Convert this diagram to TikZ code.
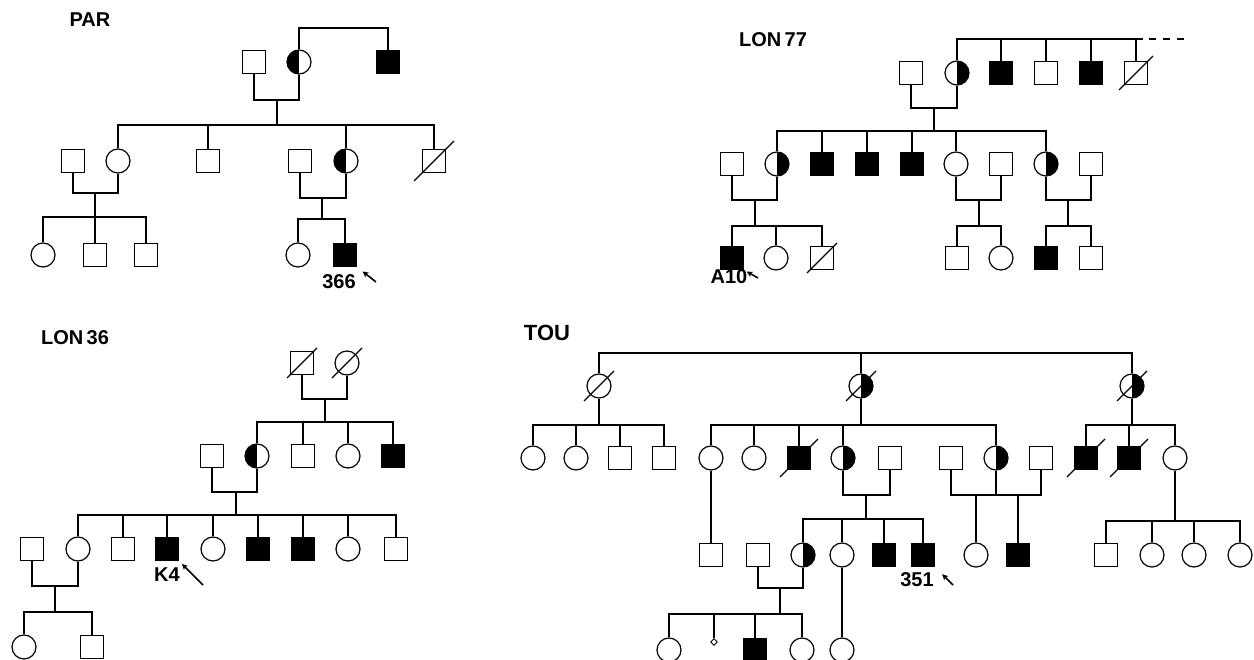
\documentclass[tikz,border=0pt]{standalone}
\usepackage{fontspec}
\setmainfont{Liberation Sans}
\usetikzlibrary{arrows.meta, shapes.geometric}
\newcommand{\deceased}[3]{\draw (#1.center) ++(-#2pt,-#3pt) -- ++(2*#2pt,2*#3pt);}
\tikzset{
  sq/.style={draw, rectangle, inner sep=0pt, minimum size=23pt},
  ci/.style={draw, circle, inner sep=0pt, minimum size=24pt},
  dia/.style={draw, diamond, inner sep=0pt, minimum size=7pt, line width=0.9pt},
  aff/.style={fill=black},
  lhalf/.style={path picture={\fill (path picture bounding box.south west) rectangle (path picture bounding box.north);}},
  rhalf/.style={path picture={\fill (path picture bounding box.south) rectangle (path picture bounding box.north east);}},
  lbl/.style={font=\fontsize{20}{22}\selectfont\bfseries, inner sep=0pt},
  proband/.style={-{Stealth[length=6pt, width=6pt]}, line width=1.6pt},
}
\begin{document}
\begin{tikzpicture}[x=1pt, y=-1pt, line width=1.2pt]
\useasboundingbox (0,0) rectangle (1254,660);

% PAR
\node[lbl] (parT) at (90,20) {PAR};
\node[sq] (pa1) at (254,62) {};
\node[ci, lhalf] (pa2) at (299,62) {};
\node[sq, aff] (pa3) at (388,62) {};
\coordinate (parG) at (340,28);
\draw (pa2.north) |- (parG) -| (pa3.north);
\node[sq] (pb1) at (73,161) {};
\node[ci] (pb2) at (118,161) {};
\node[sq] (pb3) at (208,161) {};
\node[sq] (pb4) at (300,161) {};
\node[ci, lhalf] (pb5) at (346,161) {};
\node[sq] (pb6) at (434,161) {};
\deceased{pb6}{20}{20}
\coordinate (parM1) at (277,100);
\coordinate (parS1) at (277,125);
\draw (pa1.south) |- (parM1) -| (pa2.south);
\draw (parM1) -- (parS1);
\draw (pb2.north) |- (parS1) -| (pb6.north);
\foreach \c in {pb3,pb5} \draw (\c.north) -- (\c.north |- parS1);
\node[ci] (pc1) at (43,255) {};
\node[sq] (pc2) at (95,255) {};
\node[sq] (pc3) at (146,255) {};
\node[ci] (pc4) at (298,255) {};
\node[sq, aff] (pc5) at (345,255) {};
\coordinate (parM2) at (95,193);
\coordinate (parS2) at (95,217);
\draw (pb1.south) |- (parM2) -| (pb2.south);
\draw (parM2) -- (parS2);
\draw (pc1.north) |- (parS2) -| (pc3.north);
\draw (pc2.north) -- (pc2.north |- parS2);
\coordinate (parM3) at (322,198);
\coordinate (parS3) at (322,219);
\draw (pb4.south) |- (parM3) -| (pb5.south);
\draw (parM3) -- (parS3);
\draw (pc4.north) |- (parS3) -| (pc5.north);
\node[lbl] (par366) at (339,282) {366};
\coordinate (parA) at (376,282);
\draw[proband, shorten >=7pt] (parA) -- (pc5.south east);

% LON77
\node[lbl] (lonT) at (773,40) {LON\,77};
\node[sq] (la1) at (911,73) {};
\node[ci, rhalf] (la2) at (957,73) {};
\node[sq, aff] (la3) at (1001,73) {};
\node[sq] (la4) at (1046,73) {};
\node[sq, aff] (la5) at (1091,73) {};
\node[sq] (la6) at (1136,73) {};
\deceased{la6}{17}{17}
\coordinate (lonG) at (1046,39);
\coordinate (lonE) at (1186,39);
\draw (la2.north) |- (lonG) -| (la6.north);
\foreach \c in {la3,la4,la5} \draw (\c.north) -- (\c.north |- lonG);
\draw (la6.north |- lonG) -- ++(7pt,0);
\draw[dash pattern=on 7pt off 7pt] (la6.north |- lonG) ++(13pt,0) -- (lonE);
\node[sq] (lb1) at (732,164) {};
\node[ci, rhalf] (lb2) at (777,164) {};
\node[sq, aff] (lb3) at (822,164) {};
\node[sq, aff] (lb4) at (867,164) {};
\node[sq, aff] (lb5) at (912,164) {};
\node[ci] (lb6) at (956,164) {};
\node[sq] (lb7) at (1001,164) {};
\node[ci, rhalf] (lb8) at (1046,164) {};
\node[sq] (lb9) at (1091,164) {};
\coordinate (lonM1) at (934,108);
\coordinate (lonS1) at (934,131);
\draw (la1.south) |- (lonM1) -| (la2.south);
\draw (lonM1) -- (lonS1);
\draw (lb2.north) |- (lonS1) -| (lb8.north);
\foreach \c in {lb3,lb4,lb5,lb6} \draw (\c.north) -- (\c.north |- lonS1);
\node[sq, aff] (lc1) at (732,258) {};
\node[ci] (lc2) at (776,258) {};
\node[sq] (lc3) at (822,258) {};
\deceased{lc3}{15}{15}
\node[sq] (lc4) at (957,258) {};
\node[ci] (lc5) at (1001,258) {};
\node[sq, aff] (lc6) at (1046,258) {};
\node[sq] (lc7) at (1091,258) {};
\coordinate (lonM2) at (755,200);
\coordinate (lonS2) at (755,226);
\draw (lb1.south) |- (lonM2) -| (lb2.south);
\draw (lonM2) -- (lonS2);
\draw (lc1.north) |- (lonS2) -| (lc3.north);
\draw (lc2.north) -- (lc2.north |- lonS2);
\coordinate (lonM3) at (979,200);
\coordinate (lonS3) at (979,226);
\draw (lb6.south) |- (lonM3) -| (lb7.south);
\draw (lonM3) -- (lonS3);
\draw (lc4.north) |- (lonS3) -| (lc5.north);
\coordinate (lonM4) at (1068,200);
\coordinate (lonS4) at (1068,226);
\draw (lb8.south) |- (lonM4) -| (lb9.south);
\draw (lonM4) -- (lonS4);
\draw (lc6.north) |- (lonS4) -| (lc7.north);
\node[lbl] (lonA10) at (729,277) {A10};
\coordinate (lonA) at (758,278);
\draw[proband, shorten >=3pt] (lonA) -- (lc1.south east);

% LON36
\node[lbl] (kT) at (75,338) {LON\,36};
\node[sq] (ka1) at (302,363) {};
\node[ci] (ka2) at (347,363) {};
\deceased{ka1}{15}{15}
\deceased{ka2}{15}{15}
\coordinate (kM1) at (325,399);
\coordinate (kS1) at (325,422);
\draw (ka1.south) |- (kM1) -| (ka2.south);
\draw (kM1) -- (kS1);
\node[sq] (kb1) at (212,456) {};
\node[ci, lhalf] (kb2) at (257,456) {};
\node[sq] (kb3) at (303,456) {};
\node[ci] (kb4) at (348,456) {};
\node[sq, aff] (kb5) at (393,456) {};
\draw (kb2.north) |- (kS1) -| (kb5.north);
\foreach \c in {kb3,kb4} \draw (\c.north) -- (\c.north |- kS1);
\coordinate (kM2) at (236,492);
\coordinate (kS2) at (236,515);
\draw (kb1.south) |- (kM2) -| (kb2.south);
\draw (kM2) -- (kS2);
\node[sq] (kc1) at (32,549) {};
\node[ci] (kc2) at (78,549) {};
\node[sq] (kc3) at (123,549) {};
\node[sq, aff] (kc4) at (167,549) {};
\node[ci] (kc5) at (213,549) {};
\node[sq, aff] (kc6) at (258,549) {};
\node[sq, aff] (kc7) at (303,549) {};
\node[ci] (kc8) at (348,549) {};
\node[sq] (kc9) at (396,549) {};
\draw (kc2.north) |- (kS2) -| (kc9.north);
\foreach \c in {kc3,kc4,kc5,kc6,kc7,kc8} \draw (\c.north) -- (\c.north |- kS2);
\coordinate (kM3) at (55,586);
\coordinate (kS3) at (55,612);
\draw (kc1.south) |- (kM3) -| (kc2.south);
\draw (kM3) -- (kS3);
\node[ci] (kd1) at (24,647) {};
\node[sq] (kd2) at (92,647) {};
\draw (kd1.north) |- (kS3) -| (kd2.north);
\node[lbl] (kK4) at (167,575) {K4};
\coordinate (kA) at (203,585);
\draw[proband, shorten >=4pt] (kA) -- (kc4.south east);

% TOU
\node[lbl, font=\fontsize{22}{24}\selectfont\bfseries] (tT) at (547,333) {TOU};
\node[ci] (ta1) at (599,386) {};
\node[ci, rhalf] (ta2) at (861,386) {};
\node[ci, rhalf] (ta3) at (1132,386) {};
\foreach \c in {ta1,ta2,ta3} {\deceased{\c}{15}{15}}
\coordinate (touG) at (861,353);
\draw (ta1.north) |- (touG) -| (ta3.north);
\draw (ta2.north) -- (touG);
\node[ci] (tb1) at (533,458) {};
\node[ci] (tb2) at (576,458) {};
\node[sq] (tb3) at (620,458) {};
\node[sq] (tb4) at (664,458) {};
\node[ci] (tb5) at (711,458) {};
\node[ci] (tb6) at (754,458) {};
\node[sq, aff] (tb7) at (799,458) {};
\node[ci, rhalf] (tb8) at (843,458) {};
\node[sq] (tb9) at (890,458) {};
\node[sq] (tb10) at (951,458) {};
\node[ci, rhalf] (tb11) at (996,458) {};
\node[sq] (tb12) at (1041,458) {};
\node[sq, aff] (tb13) at (1086,458) {};
\node[sq, aff] (tb14) at (1129,458) {};
\node[ci] (tb15) at (1175,458) {};
\foreach \c in {tb7,tb13,tb14} {\deceased{\c}{19}{19}}
\coordinate (tS1) at (599,425);
\draw (ta1.south) -- (tS1);
\draw (tb1.north) |- (tS1) -| (tb4.north);
\foreach \c in {tb2,tb3} \draw (\c.north) -- (\c.north |- tS1);
\coordinate (tS2) at (861,425);
\draw (ta2.south) -- (tS2);
\draw (tb5.north) |- (tS2) -| (tb11.north);
\foreach \c in {tb6,tb7,tb8} \draw (\c.north) -- (\c.north |- tS2);
\coordinate (tS3) at (1132,425);
\draw (ta3.south) -- (tS3);
\draw (tb13.north) |- (tS3) -| (tb15.north);
\draw (tb14.north) -- (tb14.north |- tS3);
\node[sq] (tc1) at (711,555) {};
\node[sq] (tc2) at (758,555) {};
\node[ci, rhalf] (tc3) at (803,555) {};
\node[ci] (tc4) at (842,555) {};
\node[sq, aff] (tc5) at (884,555) {};
\node[sq, aff] (tc6) at (923,555) {};
\node[ci] (tc7) at (976,555) {};
\node[sq, aff] (tc8) at (1018,555) {};
\node[sq] (tc9) at (1106,555) {};
\node[ci] (tc10) at (1152,555) {};
\node[ci] (tc11) at (1194,555) {};
\node[ci] (tc12) at (1240,555) {};
\draw (tb5.south) -- (tc1.north);
\coordinate (tM1) at (866,495);
\coordinate (tS4) at (866,519);
\draw (tb8.south) |- (tM1) -| (tb9.south);
\draw (tM1) -- (tS4);
\draw (tc3.north) |- (tS4) -| (tc6.north);
\foreach \c in {tc4,tc5} \draw (\c.north) -- (\c.north |- tS4);
\coordinate (tM2) at (976,495);
\draw (tb10.south) |- (tM2) -| (tb11.south);
\draw (tM2) -- (tc7.north);
\coordinate (tM3) at (1018,495);
\draw (tb11.south) |- (tM3) -| (tb12.south);
\draw (tM3) -- (tc8.north);
\coordinate (tS5) at (1175,521);
\draw (tb15.south) -- (tS5);
\draw (tc9.north) |- (tS5) -| (tc12.north);
\foreach \c in {tc10,tc11} \draw (\c.north) -- (\c.north |- tS5);
\node[ci] (td1) at (669,650) {};
\node[dia] (td2) at (714,642) {};
\node[sq, aff] (td3) at (755,650) {};
\node[ci] (td4) at (802,650) {};
\node[ci] (td5) at (842,650) {};
\coordinate (tM4) at (780,588);
\coordinate (tS6) at (780,614);
\draw (tc2.south) |- (tM4) -| (tc3.south);
\draw (tM4) -- (tS6);
\draw (td1.north) |- (tS6) -| (td4.north);
\foreach \c in {td2,td3} \draw (\c.north) -- (\c.north |- tS6);
\draw (tc4.south) -- (td5.north);
\node[lbl] (t351) at (917,580) {351};
\coordinate (tA) at (953,585);
\draw[proband, shorten >=10pt] (tA) -- (tc6.south east);
\end{tikzpicture}
\end{document}
